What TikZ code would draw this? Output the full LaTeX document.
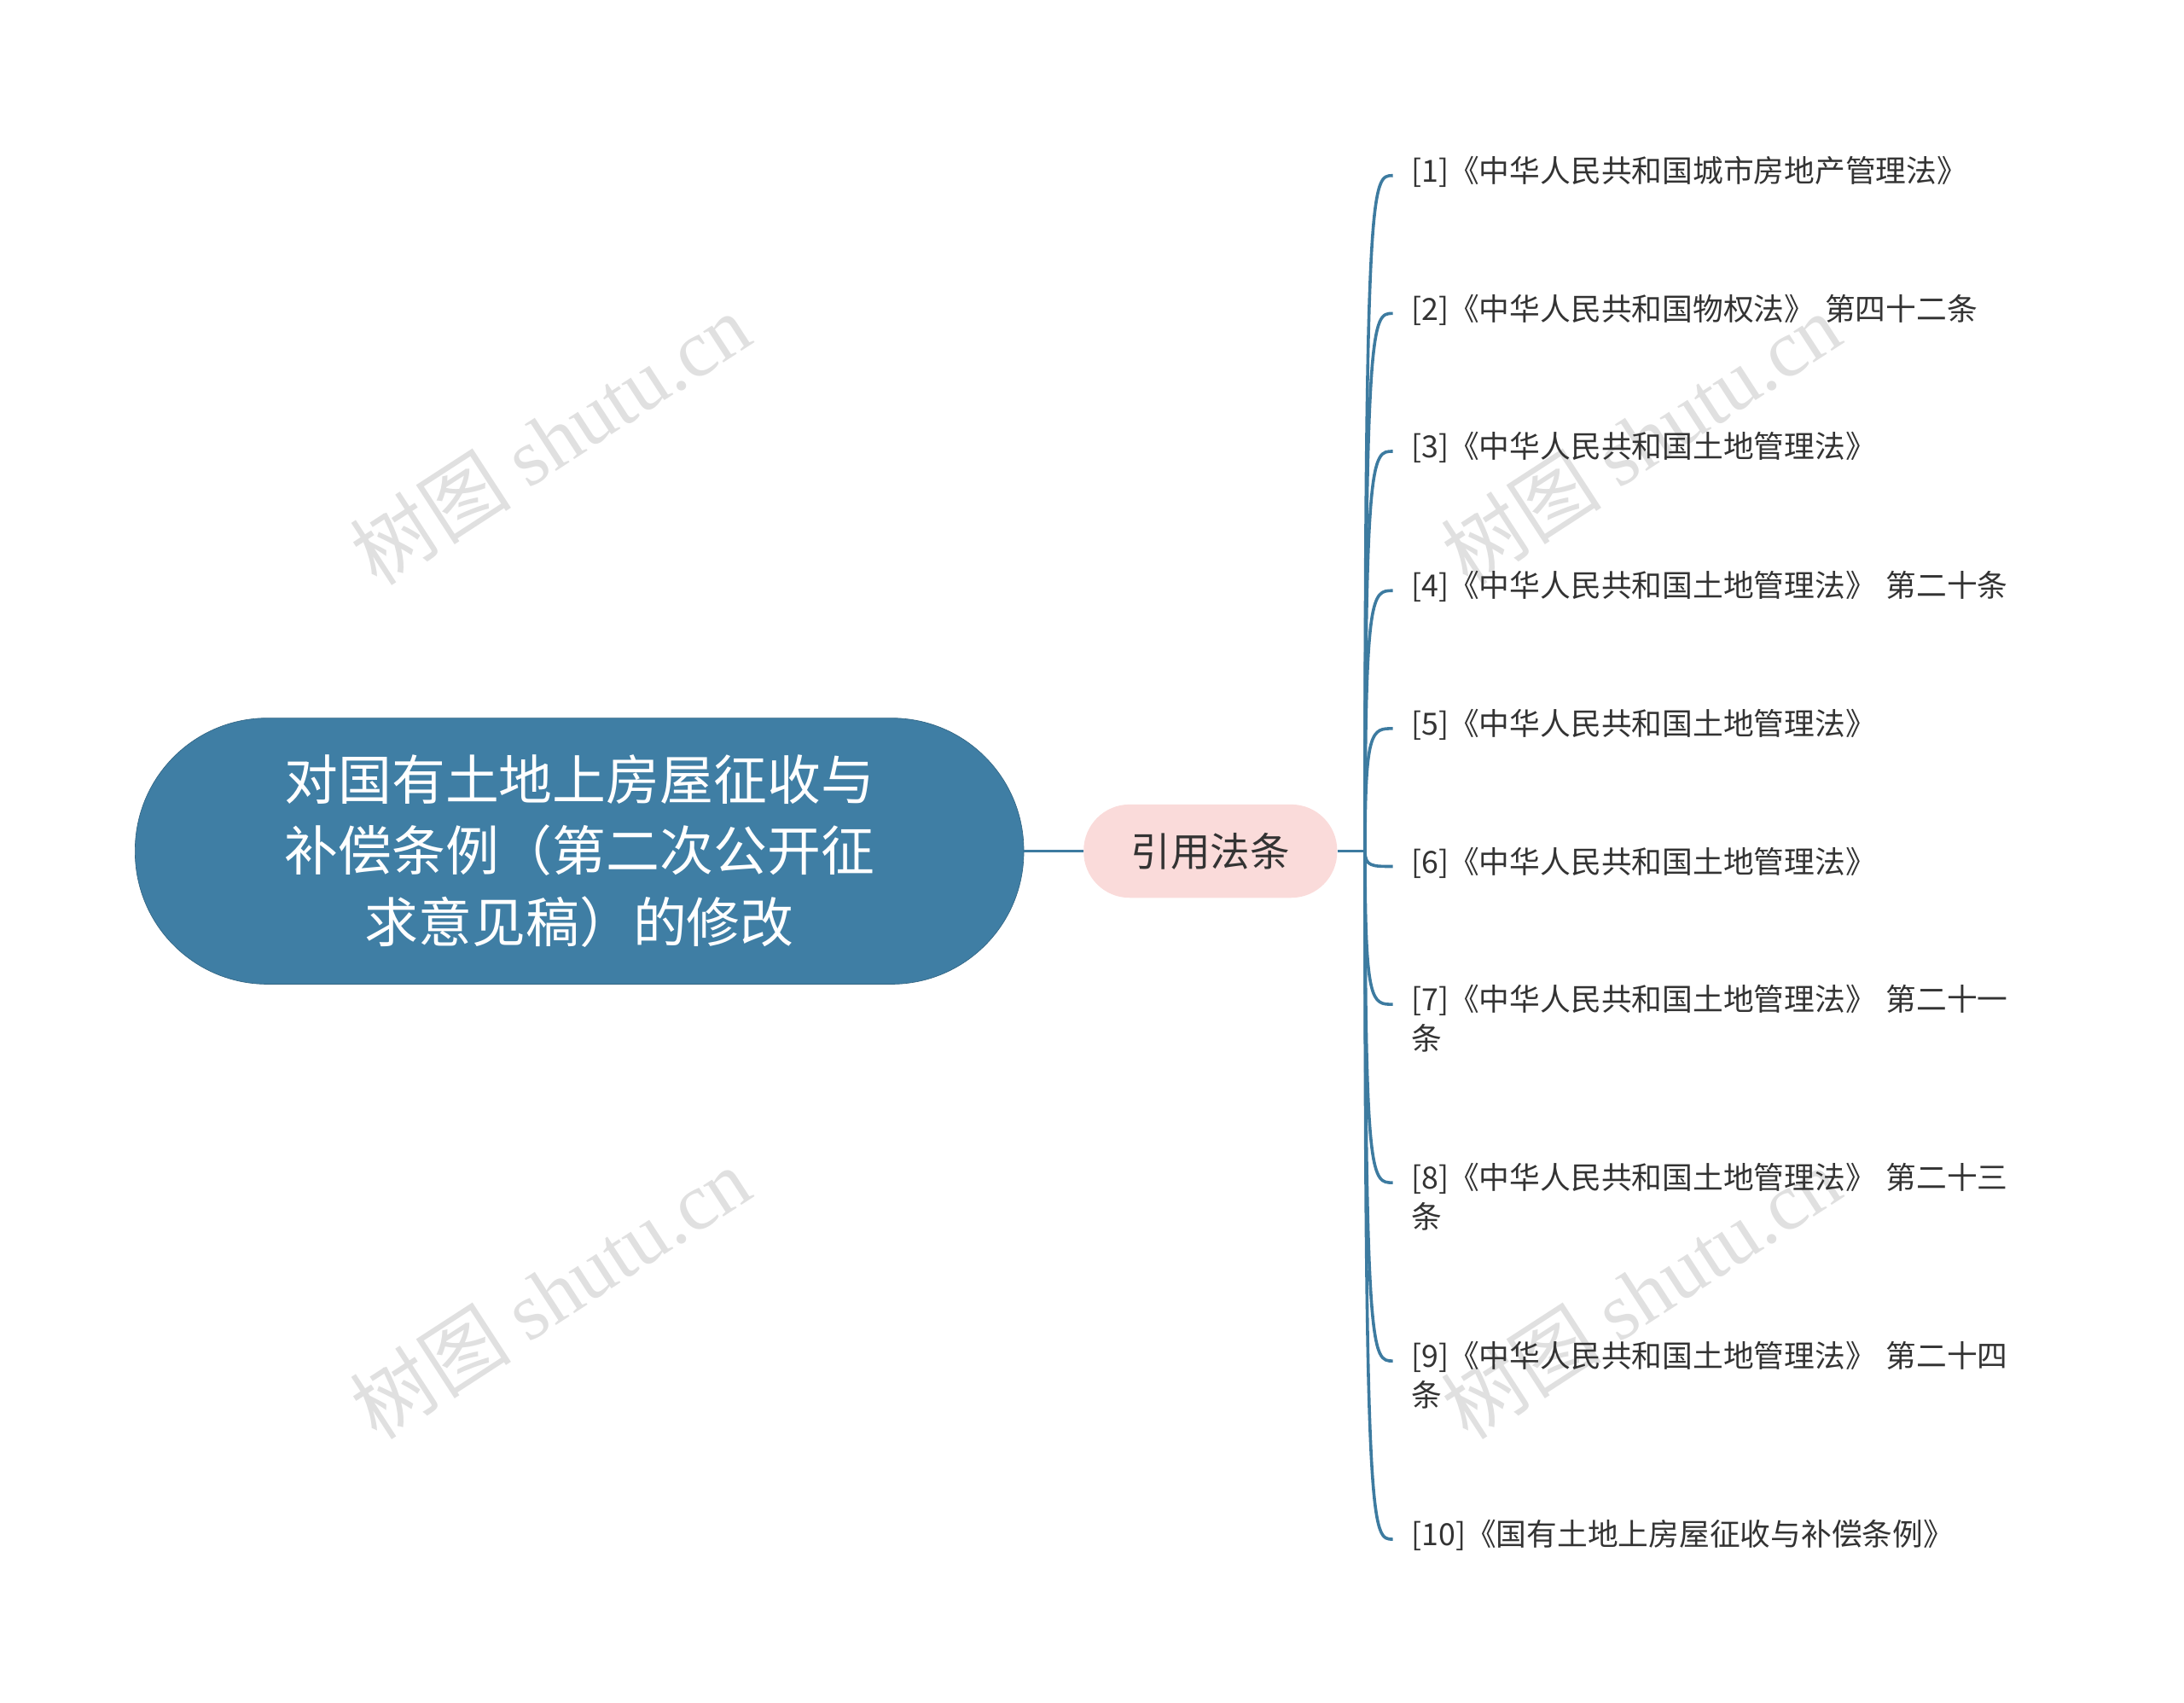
\documentclass[tikz,border=0pt]{standalone}
\usepackage{fontspec}
\setmainfont{Noto Sans CJK SC}
\newfontfamily\wmlat{Liberation Serif}
\begin{document}
\begin{tikzpicture}[x=1pt,y=-1pt,
  conn/.style={draw=lk,line width=2.2pt},
  leaf/.style={anchor=north west,inner sep=0pt,font=\fontsize{21.9}{28}\selectfont,text=txt,align=left,text width=460pt},
  wm/.style={text=black!12,font=\fontsize{58}{58}\selectfont,rotate=33}]
\definecolor{lk}{RGB}{61,123,160}
\definecolor{rootc}{RGB}{63,126,164}
\definecolor{pinkc}{RGB}{250,219,218}
\definecolor{txt}{RGB}{51,51,51}
\useasboundingbox (0,0) rectangle (1568,1222);
\foreach \p in {(395,315),(395,928),(1178,315),(1178,928)}
  \node[wm] at \p {树图 {\wmlat shutu.cn}};
\node[draw=rootc!80!black,fill=rootc,rounded corners=95pt,minimum width=638pt,minimum height=191pt,text=white,align=center,font=\fontsize{38.5}{51}\selectfont] (root) at (416,611) {对国有土地上房屋征收与\\补偿条例（第二次公开征\\求意见稿）的修改};
\node[fill=pinkc,rounded corners=33pt,minimum width=182pt,minimum height=67pt,font=\fontsize{28.5}{30}\selectfont,text=txt] (mid) at (869,611) {引用法条};
\draw[conn] (root.east) -- (mid.west);
\coordinate (br) at (980,611);
\draw[conn] (mid.east) -- (br);
\foreach \i/\y/\t in {1/122/{[1]《中华人民共和国城市房地产管理法》},
 2/221/{[2]《中华人民共和国物权法》 第四十二条},
 3/320/{[3]《中华人民共和国土地管理法》},
 4/420/{[4]《中华人民共和国土地管理法》 第二十条},
 5/519/{[5]《中华人民共和国土地管理法》},
 6/618/{[6]《中华人民共和国土地管理法》},
 7/717/{[7]《中华人民共和国土地管理法》 第二十一\\条},
 8/845/{[8]《中华人民共和国土地管理法》 第二十三\\条},
 9/973/{[9]《中华人民共和国土地管理法》 第二十四\\条},
 10/1101/{[10]《国有土地上房屋征收与补偿条例》}}{
  \node[leaf] (l\i) at (1013,\y-10) {\t};
  \coordinate (e\i) at (1000,\y+4);
  \draw[conn] (br) .. controls (980,\y+4) and (985,\y+4) .. (e\i);
}
\end{tikzpicture}
\end{document}
